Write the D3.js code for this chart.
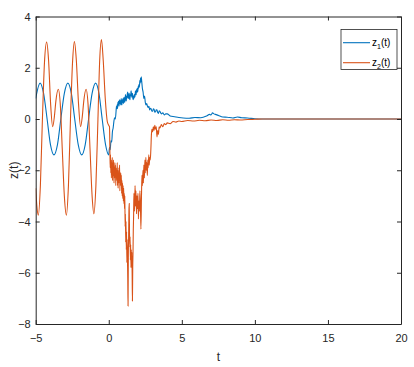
<!DOCTYPE html>
<html>
<head>
<meta charset="utf-8">
<script src="https://cdn.jsdelivr.net/npm/d3@7"></script>
<style>
body{margin:0;background:#fff;}
text{font-family:"Liberation Sans",Arial,sans-serif;}
</style>
</head>
<body>
<svg id="chart" width="414" height="367"></svg>
<script>
// ---- data: [t, value] pairs ----
const xTicks = [-5, 0, 5, 10, 15, 20];
const yTicks = [-8, -6, -4, -2, 0, 2, 4];
const seriesNames = ["1", "2"];

const z1 = [
[-5.0,0.8],[-4.95,0.95],[-4.7,1.4],[-4.46,1.0],[-4.22,0.0],[-3.99,-1.0],[-3.75,-1.4],[-3.51,-1.0],[-3.28,0.0],[-3.04,1.0],[-2.8,1.4],[-2.56,1.0],[-2.33,0.0],[-2.09,-1.0],[-1.85,-1.4],[-1.61,-1.0],[-1.38,0.0],[-1.14,1.0],[-0.9,1.4],[-0.67,1.0],[-0.45,0.0],[-0.22,-1.0],[0.0,-1.4],
[0.05,-1.1],[0.1,-1.2],[0.15,-0.85],[0.2,-0.9],[0.25,-0.5],[0.3,-0.35],[0.35,-0.1],[0.4,0.05],[0.45,0.0],
[0.5,0.3],[0.525,0.5],[0.55,0.4],[0.575,0.55],[0.6,0.4],[0.625,0.65],[0.65,0.55],[0.675,0.7],[0.7,0.5],[0.725,0.65],[0.75,0.75],[0.775,0.6],[0.8,0.7],[0.825,0.55],[0.85,0.8],[0.875,0.65],[0.9,0.55],[0.925,0.75],[0.95,0.65],[0.975,0.8],
[1.0,0.6],[1.025,0.75],[1.05,0.85],[1.075,0.7],[1.1,0.65],[1.125,0.85],[1.15,0.95],[1.175,0.75],[1.2,0.7],[1.225,0.9],[1.25,0.8],[1.275,1.0],[1.3,1.05],[1.325,0.85],[1.35,0.8],[1.375,0.95],[1.4,1.0],[1.425,0.8],[1.45,0.75],[1.475,0.95],
[1.5,0.9],[1.525,1.1],[1.55,1.0],[1.575,0.85],[1.6,0.9],[1.625,1.0],[1.65,0.8],[1.675,0.75],[1.7,0.9],[1.725,0.8],[1.75,0.95],[1.775,0.85],[1.8,0.9],[1.825,1.1],[1.85,1.0],[1.875,0.95],[1.9,1.15],[1.925,1.05],[1.95,1.2],[1.975,1.05],
[2.0,1.15],[2.025,1.3],[2.05,1.2],[2.075,1.35],[2.1,1.25],[2.125,1.5],[2.15,1.4],[2.175,1.6],[2.2,1.45],[2.225,1.65],[2.25,1.5],[2.275,1.35],[2.3,1.2],
[2.35,1.05],[2.4,0.8],[2.45,0.9],[2.5,0.65],[2.55,0.55],[2.6,0.6],[2.65,0.5],[2.7,0.45],[2.75,0.5],[2.8,0.35],[2.85,0.42],[2.9,0.4],[2.95,0.3],[3.0,0.3],[3.05,0.4],[3.1,0.38],[3.15,0.27],[3.2,0.28],[3.25,0.36],[3.3,0.35],[3.35,0.25],[3.4,0.22],[3.45,0.32],[3.5,0.3],[3.6,0.2],[3.7,0.24],[3.8,0.16],[3.9,0.2],[4.0,0.2],[4.2,0.12],[4.5,0.09],[4.8,0.06],[5.1,0.04],[5.5,0.03],[5.9,0.06],[6.3,0.05],[6.7,0.12],[6.9,0.18],[7.0,0.16],[7.1,0.24],[7.2,0.2],[7.3,0.18],[7.5,0.14],[7.8,0.08],[8.1,0.07],[8.5,0.04],[8.8,0.08],[9.1,0.05],[9.5,0.04],[10.0,0.01],[10.5,0.0],[13,0.0],[20,0.0]
];

const z2 = [
[-5.0,-2.7],[-4.92,-3.4],[-4.82,-3.75],[-4.68,-2.6],[-4.54,0.0],[-4.4,2.2],[-4.25,3.0],[-4.12,2.3],[-3.98,0.6],[-3.84,-0.3],[-3.72,0.1],[-3.62,0.7],[-3.45,1.16],[-3.32,0.6],[-3.18,-1.2],[-3.04,-3.0],
[-2.9,-3.75],[-2.76,-2.6],[-2.62,0.0],[-2.48,2.2],[-2.35,3.02],[-2.22,2.3],[-2.07,0.6],[-1.93,-0.3],[-1.81,0.1],[-1.71,0.7],[-1.55,1.16],[-1.42,0.6],[-1.28,-1.2],[-1.14,-3.0],
[-1.02,-3.7],[-0.88,-2.6],[-0.74,0.0],[-0.62,2.3],[-0.5,3.1],[-0.38,2.3],[-0.24,0.8],[-0.1,-0.1],[0.0,-0.25],[0.05,-0.3],
[0.08,-1.3],[0.1,-1.9],[0.12,-1.4],[0.14,-2.1],[0.16,-1.6],[0.18,-2.3],[0.2,-1.7],[0.22,-2.0],[0.24,-1.5],[0.26,-2.4],[0.28,-1.8],[0.3,-2.2],[0.32,-1.6],[0.34,-2.0],[0.36,-2.5],[0.38,-1.9],[0.4,-2.3],[0.42,-1.7],[0.44,-2.2],[0.46,-1.8],[0.48,-2.6],
[0.5,-2.0],[0.52,-2.4],[0.54,-1.9],[0.56,-2.3],[0.58,-1.7],[0.6,-2.6],[0.62,-2.0],[0.64,-2.7],[0.66,-2.1],[0.68,-2.5],[0.7,-1.9],[0.72,-2.3],[0.74,-1.8],[0.76,-2.8],[0.78,-2.2],[0.8,-2.5],[0.82,-2.1],[0.84,-2.6],[0.86,-2.2],[0.88,-2.9],
[0.9,-2.4],[0.92,-3.0],[0.94,-2.5],[0.96,-3.1],[0.98,-2.6],[1.0,-3.2],[1.02,-2.7],[1.04,-3.3],[1.06,-2.9],[1.08,-3.5],[1.1,-3.0],
[1.12,-4.2],[1.14,-3.7],[1.16,-4.8],[1.18,-4.0],[1.2,-5.1],[1.22,-4.4],[1.24,-5.6],[1.26,-4.7],[1.28,-5.4],[1.3,-6.2],[1.32,-7.3],[1.34,-5.3],[1.36,-4.6],[1.38,-3.6],[1.4,-3.3],[1.42,-4.5],[1.44,-5.0],[1.46,-4.6],[1.48,-5.5],
[1.5,-4.9],[1.52,-5.8],[1.54,-5.1],[1.56,-5.7],[1.58,-5.2],[1.6,-6.0],[1.62,-7.1],[1.64,-5.8],[1.66,-5.2],[1.68,-4.3],[1.7,-3.8],[1.72,-2.9],
[1.76,-3.6],[1.8,-2.6],[1.83,-3.4],[1.86,-2.8],[1.9,-3.7],[1.93,-3.0],[1.96,-3.5],[2.0,-2.9],[2.03,-3.9],[2.06,-3.2],[2.1,-3.6],[2.13,-2.8],[2.17,-3.4],[2.2,-4.3],[2.24,-3.0],[2.27,-2.2],[2.3,-2.6],[2.34,-2.0],[2.37,-2.5],
[2.4,-1.8],[2.44,-2.3],[2.47,-1.6],[2.5,-2.1],[2.54,-1.5],[2.57,-2.0],[2.6,-1.7],[2.64,-2.2],[2.67,-1.6],[2.7,-1.9],[2.74,-1.4],[2.77,-1.8],[2.8,-1.5],[2.84,-1.6],[2.88,-1.2],[2.92,-0.6],[2.95,-0.4],
[3.0,-0.5],[3.05,-0.3],[3.1,-0.45],[3.15,-0.25],[3.2,-0.4],[3.25,-0.3],[3.3,-0.7],[3.35,-0.45],[3.4,-0.6],[3.45,-0.3],[3.5,-0.35],[3.6,-0.22],[3.7,-0.3],[3.8,-0.18],[3.9,-0.22],[4.0,-0.15],[4.2,-0.18],[4.4,-0.1],[4.6,-0.12],[4.8,-0.08],
[5.0,-0.1],[5.4,-0.06],[5.8,-0.08],[6.2,-0.05],[6.6,-0.07],[7.0,-0.04],[7.4,-0.06],[7.8,-0.03],[8.2,-0.05],[8.6,-0.03],[9.0,-0.04],[9.5,-0.02],[10.0,-0.01],[10.5,0.0],[20,0.0]
];

// ---- drawing ----
const svg = d3.select("#chart");
const L = 35.7, R = 401, T = 16.5, B = 324;
const x = d3.scaleLinear().domain([-5, 20]).range([L, R]);
const y = d3.scaleLinear().domain([-8, 4]).range([B, T]);
const axisColor = "#262626";

svg.append("defs").append("clipPath").attr("id", "clip")
  .append("rect").attr("x", L).attr("y", T).attr("width", R - L).attr("height", B - T);

const line = d3.line().x(d => x(d[0])).y(d => y(d[1])).curve(d3.curveMonotoneX);
const colors = ["#0072BD", "#D95319"];

const g = svg.append("g").attr("clip-path", "url(#clip)");
g.append("path").datum(z1).attr("d", line).attr("fill", "none").attr("stroke", colors[0]).attr("stroke-width", 1.1);
g.append("path").datum(z2).attr("d", line).attr("fill", "none").attr("stroke", colors[1]).attr("stroke-width", 1.1);

function styleAxis(sel) {
  sel.selectAll("path").attr("stroke", axisColor).attr("stroke-width", 1);
  sel.selectAll("line").attr("stroke", axisColor);
  sel.selectAll("text").attr("fill", axisColor).attr("font-size", 11);
}
svg.append("g").attr("transform", `translate(0,${B})`)
  .call(d3.axisBottom(x).tickValues(xTicks).tickSizeInner(-4).tickSizeOuter(0).tickPadding(10)).call(styleAxis);
svg.append("g").attr("transform", `translate(${L},0)`)
  .call(d3.axisLeft(y).tickValues(yTicks).tickSizeInner(-4).tickSizeOuter(0).tickPadding(5)).call(styleAxis);
svg.append("g").attr("transform", `translate(0,${T})`)
  .call(d3.axisTop(x).tickValues(xTicks).tickSizeInner(-4).tickSizeOuter(0).tickFormat("")).call(styleAxis);
svg.append("g").attr("transform", `translate(${R},0)`)
  .call(d3.axisRight(y).tickValues(yTicks).tickSizeInner(-4).tickSizeOuter(0).tickFormat("")).call(styleAxis);

// axis labels
svg.append("text").attr("x", (L + R) / 2).attr("y", 361).attr("text-anchor", "middle")
  .attr("font-size", 12).attr("fill", axisColor).text("t");
svg.append("text").attr("transform", `translate(18,${(T + B) / 2}) rotate(-90)`).attr("text-anchor", "middle")
  .attr("font-size", 12).attr("fill", axisColor).text("z(t)");

// legend
const lg = svg.append("g");
lg.append("rect").attr("x", 341).attr("y", 29.5).attr("width", 56).attr("height", 40)
  .attr("fill", "#fff").attr("stroke", axisColor).attr("stroke-width", 0.8);
const rows = [42.7, 62.7];
seriesNames.forEach((n, i) => {
  lg.append("line").attr("x1", 343).attr("x2", 370).attr("y1", rows[i]).attr("y2", rows[i])
    .attr("stroke", colors[i]).attr("stroke-width", 1.1);
  const tx = lg.append("text").attr("x", 372).attr("y", rows[i] + 3.5).attr("font-size", 10).attr("fill", "#000");
  tx.append("tspan").text("z");
  tx.append("tspan").attr("font-size", 7).attr("dy", 3).text(n);
  tx.append("tspan").attr("dy", -3).text("(t)");
});
</script>
</body>
</html>
